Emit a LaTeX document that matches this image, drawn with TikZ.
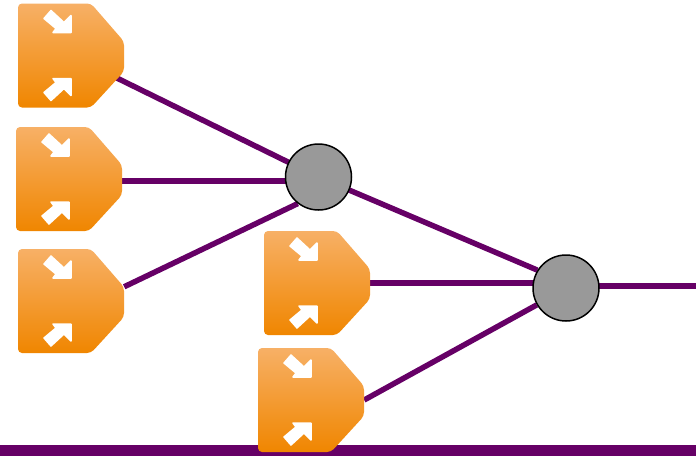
\documentclass[tikz,border=0pt]{standalone}
\usepackage{tikz}
\usetikzlibrary{positioning,calc,backgrounds}
\definecolor{darkpurple}{HTML}{660066}
\definecolor{gateorange}{HTML}{F08600}
\definecolor{gatelight}{HTML}{F7B066}
\definecolor{gatemid}{HTML}{F39A30}
\definecolor{joingray}{HTML}{999999}
\tikzset{
  wire/.style={darkpurple, line width=5.5pt},
  gatebox/.style={rectangle, minimum size=106pt, inner sep=0pt},
  joinnode/.style={circle, draw=black, line width=1.5pt, fill=joingray, minimum size=66pt, inner sep=0pt},
  arrowmark/.style={fill=white, draw=white, line width=1.5pt, line join=round},
  gate/.pic={
    \shade[top color=gatelight, middle color=gatemid, bottom color=gateorange, rounded corners=4pt]
      (-53,-52) -- (20,-52) -- (53,-14) -- (53,16) -- (20,52) -- (-53,52) -- cycle;
    \filldraw[arrowmark] (-27,-37) -- (-20,-45) -- (-7,-33) -- (0,-40) -- (0,-23) -- (-18,-23) -- (-15,-27) -- cycle;
    \filldraw[arrowmark] (-27,37) -- (-20,45) -- (-7,33) -- (0,40) -- (0,23) -- (-18,23) -- (-15,27) -- cycle;
  }
}
\begin{document}
\begin{tikzpicture}[x=1pt, y=-1pt]
  \useasboundingbox (0,0) rectangle (696,456);
  % inputs of the first join
  \node[gatebox] (gateA) at (71,55.5) {};
  \node[gatebox] (gateB) at (69,179) {};
  \node[gatebox] (gateC) at (71,301) {};
  % inputs of the second join
  \node[gatebox] (gateD) at (317,283) {};
  \node[gatebox] (gateE) at (311,400) {};
  \node[joinnode] (joinA) at (318.5,177) {};
  \node[joinnode] (joinB) at (566,288) {};
  \coordinate (exit) at (696,286);
  \begin{scope}[on background layer]
    \fill[darkpurple] (0,445) rectangle (696,456);
    \draw[wire] (gateA.center) -- (joinA.center);
    \draw[wire] (gateB.-2) -- (gateB.-2 -| joinA);
    \draw[wire] (gateC.15) -- (joinA.232);
    \draw[wire] (joinA.center) -- (joinB.148);
    \draw[wire] (gateD.east) -- (gateD.east -| joinB);
    \draw[wire] (gateE.east) -- (joinB.210);
    \draw[wire] (joinB.center |- exit) -- (exit);
  \end{scope}
  \pic at (gateA) {gate};
  \pic at (gateB) {gate};
  \pic at (gateC) {gate};
  \pic at (gateD) {gate};
  \pic at (gateE) {gate};
\end{tikzpicture}
\end{document}
